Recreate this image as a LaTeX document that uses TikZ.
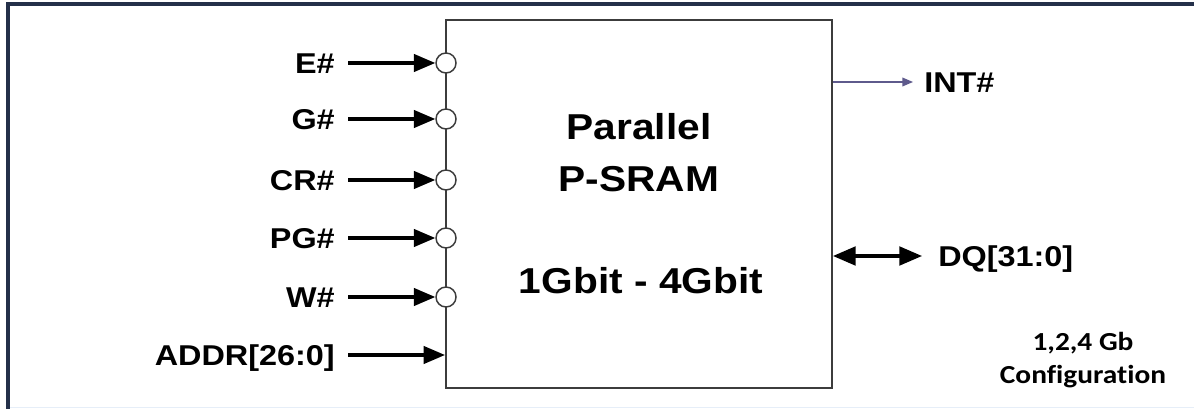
\documentclass[tikz,border=0pt]{standalone}
\usepackage{fontspec}
\usetikzlibrary{arrows.meta}
\newfontfamily\arialx{Liberation Sans}[FakeStretch=1.13]
\newfontfamily\calx{Carlito}[FakeStretch=1.13, Ligatures=NoCommon]
\definecolor{framenavy}{HTML}{243049}
\definecolor{boxgray}{HTML}{3C3C3C}
\definecolor{intpurple}{HTML}{5E5A8C}
\definecolor{faintblue}{HTML}{E6EEF8}
\tikzset{
  sig/.style={font=\arialx\bfseries\fontsize{21.5}{25}\selectfont, text height=15.4pt, text depth=0pt, inner ysep=0pt},
  lbl/.style={sig, anchor=east, inner xsep=9.75pt},
  bubble/.style={circle, draw=boxgray, line width=1.1pt, fill=white, minimum size=15pt, inner sep=0pt},
  inarrow/.style={line width=2.3pt, -{Triangle[length=16pt, width=13pt]}},
  bidir/.style={line width=2.3pt, {Triangle[length=17pt, width=14pt]}-{Triangle[length=17pt, width=14pt]}},
  intarrow/.style={draw=intpurple, line width=1.1pt, -{Triangle[length=8pt, width=6.5pt]}, color=intpurple},
  chipbox/.style={draw=boxgray, line width=1.5pt, minimum width=289.5pt, minimum height=276pt, inner sep=0pt},
  bigtxt/.style={font=\arialx\bfseries\fontsize{27}{32}\selectfont, anchor=base, inner sep=0pt},
  cfgtxt/.style={font=\calx\bfseries\fontsize{19.5}{24}\selectfont, anchor=base, inner sep=0pt},
}
\begin{document}
\begin{tikzpicture}[x=0.75pt, y=-0.75pt]
\useasboundingbox (0,0) rectangle (1194,409);
\fill[white] (0,0) rectangle (1194,409);
% frame
\draw[faintblue, line width=1pt] (8,407.5) -- (1194,407.5);
\draw[framenavy, line width=2.4pt] (8,409) -- (8,4) -- (1194,4);
% chip
\node[chipbox] (chip) at (639,204) {};
\node[bigtxt] (tPar) at (639,140) {Parallel};
\node[bigtxt] (tPs) at (639,192) {P-SRAM};
\node[bigtxt] (tGb) at (641,293) {1Gbit - 4Gbit};
% bubbles
\node[bubble] (bE) at (446,63) {};
\node[bubble] (bG) at (446,119) {};
\node[bubble] (bCR) at (446,180) {};
\node[bubble] (bPG) at (446,238) {};
\node[bubble] (bW) at (446,297) {};
% labels
\node[lbl] (lE) at (348,63) {E\#};
\node[lbl] (lG) at (348,119) {G\#};
\node[lbl] (lCR) at (348,180) {CR\#};
\node[lbl] (lPG) at (348,238) {PG\#};
\node[lbl] (lW) at (348,297) {W\#};
\node[lbl] (lA) at (348,355) {ADDR[26:0]};
\draw[inarrow] (lE) -- (bE);
\draw[inarrow] (lG) -- (bG);
\draw[inarrow] (lCR) -- (bCR);
\draw[inarrow] (lPG) -- (bPG);
\draw[inarrow] (lW) -- (bW);
\draw[inarrow] (lA) -- (lA -| chip.west);
% right side
\node[sig, anchor=west, inner xsep=8.25pt] (lInt) at (913,82) {INT\#};
\draw[intarrow] (lInt -| chip.east) -- (lInt);
\node[sig, anchor=west, inner xsep=12pt] (lDQ) at (922,256) {DQ[31:0]};
\draw[bidir] (lDQ -| chip.east) -- (lDQ);
% configuration note
\node[cfgtxt] (cfg1) at (1083,350) {1,2,4 Gb};
\node[cfgtxt] (cfg2) at (1083,383) {Configuration};
\end{tikzpicture}
\end{document}
